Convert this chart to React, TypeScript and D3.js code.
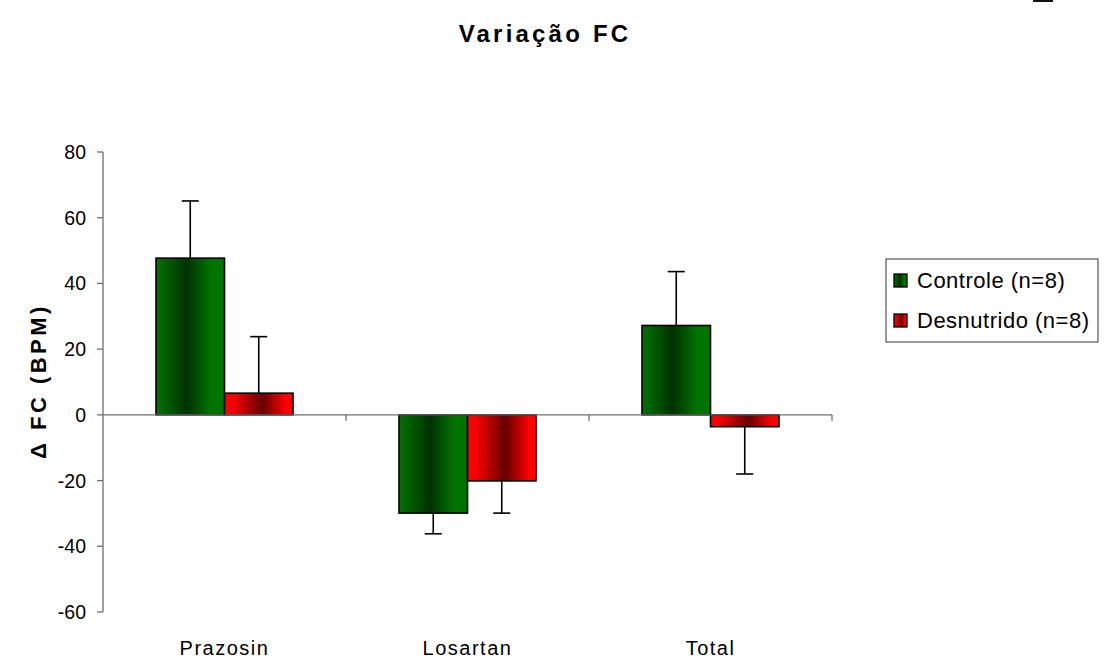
import React from 'react';
import { scaleLinear, scaleBand } from 'd3';

// data
const categories = ['Prazosin', 'Losartan', 'Total'];
const seriesNames = ['Controle (n=8)', 'Desnutrido (n=8)'];
const controle = [47.7, -29.9, 27.2];
const controleErr = [17.4, 6.3, 16.4];
const desnutrido = [6.6, -20.1, -3.6];
const desnutridoErr = [17.2, 9.8, 14.4];
const yTicks = [-60, -40, -20, 0, 20, 40, 60, 80];

const W = 1104;
const H = 661;
const font = '"Liberation Sans", Arial, sans-serif';
const axisColor = '#6e6e6e';

export default function App() {
  const y = scaleLinear().domain([-60, 80]).range([612, 152]);
  const x0 = scaleBand<string>().domain(categories).range([103, 832]);
  const x1 = scaleBand<string>()
    .domain(seriesNames)
    .range([0, x0.bandwidth()])
    .paddingInner(0)
    .paddingOuter(0.774);

  const series = [
    { name: seriesNames[0], values: controle, errs: controleErr, fill: 'url(#gradGreen)' },
    { name: seriesNames[1], values: desnutrido, errs: desnutridoErr, fill: 'url(#gradRed)' },
  ];

  const zeroY = y(0);
  const [xMin, xMax] = x0.range();
  const capHalf = 8.5;

  return (
    <svg
      width={W}
      height={H}
      style={{ position: 'absolute', left: 0, top: 0, background: '#fff' }}
      fontFamily={font}
    >
      <defs>
        <linearGradient id="gradGreen" x1="0" y1="0" x2="1" y2="0">
          <stop offset="0" stopColor="#007400" />
          <stop offset="0.45" stopColor="#003200" />
          <stop offset="0.8" stopColor="#007400" />
          <stop offset="1" stopColor="#007400" />
        </linearGradient>
        <linearGradient id="gradRed" x1="0" y1="0" x2="1" y2="0">
          <stop offset="0" stopColor="#ff0000" />
          <stop offset="0.15" stopColor="#ee0000" />
          <stop offset="0.55" stopColor="#660000" />
          <stop offset="0.9" stopColor="#ff0000" />
          <stop offset="1" stopColor="#ff0000" />
        </linearGradient>
      </defs>

      <rect x={1033} y={0} width={20} height={2} fill="#111" />

      <text
        x={545}
        y={42}
        textAnchor="middle"
        fontSize={24}
        fontWeight="bold"
        letterSpacing={3.2}
        fill="#000"
      >
        Variação FC
      </text>

      {/* y axis */}
      <line x1={xMin} x2={xMin} y1={y(80)} y2={y(-60)} stroke={axisColor} strokeWidth={1.3} />
      {yTicks.map((t) => (
        <g key={t}>
          <line x1={xMin - 6} x2={xMin} y1={y(t)} y2={y(t)} stroke={axisColor} strokeWidth={1.3} />
          <text x={xMin - 17} y={y(t) + 7} textAnchor="end" fontSize={19.5} fill="#000">
            {t}
          </text>
        </g>
      ))}
      <text
        transform={`translate(46, ${381}) rotate(-90)`}
        textAnchor="middle"
        fontSize={22}
        fontWeight="bold"
        letterSpacing={3.5}
        fill="#000"
      >
        Δ FC (BPM)
      </text>

      {/* bars */}
      {categories.map((c, i) => (
        <g key={c} transform={`translate(${x0(c)},0)`}>
          {series.map((s) => {
            const v = s.values[i];
            const bx = x1(s.name) as number;
            const bw = x1.bandwidth();
            const top = Math.min(y(v), zeroY);
            const h = Math.abs(y(v) - zeroY);
            const errEnd = v >= 0 ? v + s.errs[i] : v - s.errs[i];
            const cx = bx + bw / 2;
            return (
              <g key={s.name}>
                <line x1={cx} x2={cx} y1={y(v)} y2={y(errEnd)} stroke="#000" strokeWidth={1.6} />
                <line
                  x1={cx - capHalf}
                  x2={cx + capHalf}
                  y1={y(errEnd)}
                  y2={y(errEnd)}
                  stroke="#000"
                  strokeWidth={1.6}
                />
                <rect x={bx} y={top} width={bw} height={h} fill={s.fill} stroke="#000" strokeWidth={1.6} />
              </g>
            );
          })}
        </g>
      ))}

      {/* x axis at zero */}
      <line x1={xMin} x2={xMax} y1={zeroY} y2={zeroY} stroke={axisColor} strokeWidth={1.3} />
      {categories.map((c) => (
        <line
          key={c}
          x1={(x0(c) as number) + x0.bandwidth()}
          x2={(x0(c) as number) + x0.bandwidth()}
          y1={zeroY}
          y2={zeroY + 6}
          stroke={axisColor}
          strokeWidth={1.3}
        />
      ))}
      {categories.map((c) => (
        <text
          key={c}
          x={(x0(c) as number) + x0.bandwidth() / 2}
          y={655}
          textAnchor="middle"
          fontSize={20}
          letterSpacing={1.5}
          fill="#000"
        >
          {c}
        </text>
      ))}

      {/* legend */}
      <rect x={886} y={259} width={212} height={83} fill="#fff" stroke="#555" strokeWidth={1.2} />
      {series.map((s, i) => (
        <g key={s.name} transform={`translate(0, ${i * 40})`}>
          <rect x={894} y={274} width={13} height={13} fill={s.fill} stroke="#000" strokeWidth={1.3} />
          <text x={917} y={288} fontSize={22} letterSpacing={0.5} fill="#000">
            {s.name}
          </text>
        </g>
      ))}
    </svg>
  );
}
